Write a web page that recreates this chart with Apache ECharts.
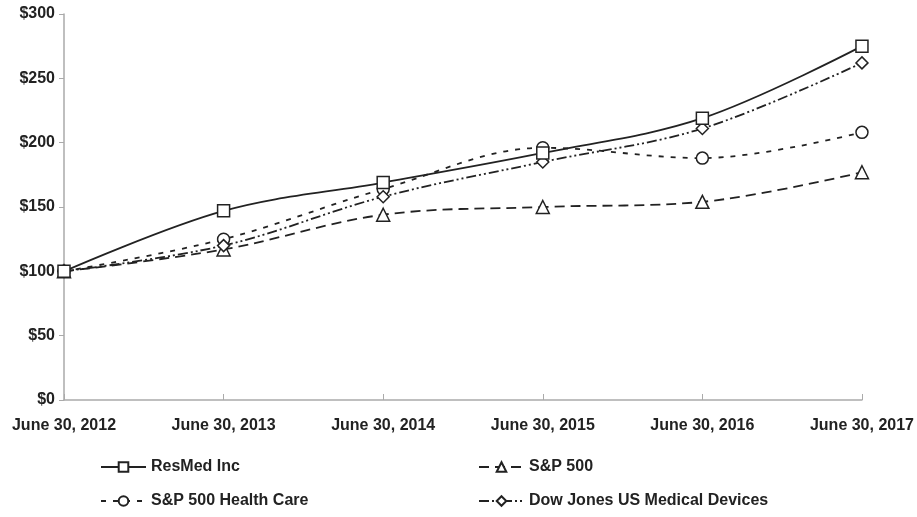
<!DOCTYPE html>
<html><head><meta charset="utf-8">
<script src="https://cdn.jsdelivr.net/npm/echarts@6/dist/echarts.min.js"></script>
<style>html,body{margin:0;padding:0;background:#fff}#c{width:917px;height:517px}</style>
</head><body><div id="c"></div>
<script>
const categories = ['June 30, 2012','June 30, 2013','June 30, 2014','June 30, 2015','June 30, 2016','June 30, 2017'];
const resmed = [100, 147, 169, 192, 219, 275];
const sp500 = [100, 117, 144, 150, 154, 177];
const spHealth = [100, 125, 164, 196, 188, 208];
const djMed = [100, 120, 158, 185, 211, 262];
const seriesNames = ['ResMed Inc','S&P 500','S&P 500 Health Care','Dow Jones US Medical Devices'];

const font = 'Liberation Sans, Arial, sans-serif';
const ink = '#222';
function mk(name, data, symbol, dash, z) {
  return {
    name, type: 'line', data, smooth: 0.35, symbol, symbolSize: symbol==='triangle'?13:12,
    z,
    lineStyle: {color: ink, width: 1.8, type: dash},
    itemStyle: {color: '#fff', borderColor: ink, borderWidth: 1.5},
    emphasis: {disabled: true}
  };
}
function leg(name, left, top) {
  return {
    data: [name], left, top, padding: 0, itemWidth: 45, itemHeight: 12, itemGap: 4,
    textStyle: {fontFamily: font, fontWeight: 'bold', fontSize: 16, color: '#222'},
    selectedMode: false
  };
}
const chart = echarts.init(document.getElementById('c'), null, {renderer: 'canvas'});
chart.setOption({
  animation: false,
  grid: {left: 64, right: 54, top: 14, bottom: 117, containLabel: false},
  legend: [
    leg(seriesNames[0], 100, 459),
    leg(seriesNames[1], 478, 459),
    leg(seriesNames[2], 100, 493),
    leg(seriesNames[3], 478, 493)
  ],
  xAxis: {
    type: 'category', data: categories, boundaryGap: false,
    axisLine: {lineStyle: {color: '#aaa', width: 1.5}},
    axisTick: {inside: true, length: 6, lineStyle: {color: '#aaa'}},
    axisLabel: {fontFamily: font, fontWeight: 'bold', fontSize: 16, color: '#222', margin: 18, interval: 0}
  },
  yAxis: {
    type: 'value', min: 0, max: 300, interval: 50,
    axisLine: {show: true, lineStyle: {color: '#aaa', width: 1.5}},
    axisTick: {show: true, length: 5, lineStyle: {color: '#aaa'}},
    splitLine: {show: false},
    axisLabel: {fontFamily: font, fontWeight: 'bold', fontSize: 16, color: '#222', margin: 9, formatter: v => '$' + v}
  },
  series: [
    mk(seriesNames[0], resmed, 'rect', 'solid', 4),
    mk(seriesNames[1], sp500, 'triangle', [10, 6], 3),
    mk(seriesNames[2], spHealth, 'circle', [5, 7], 2),
    mk(seriesNames[3], djMed, 'diamond', [10, 3, 2, 3, 2, 3], 3)
  ]
});
</script></body></html>
